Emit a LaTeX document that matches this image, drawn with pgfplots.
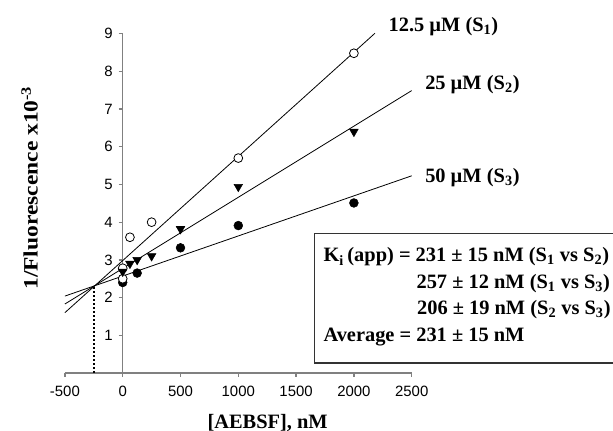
\documentclass[border=0pt]{standalone}
\usepackage{pgfplots}
\pgfplotsset{compat=1.18}
\usepackage{fontspec}
\setmainfont{Liberation Serif}
\newfontfamily\arial{Liberation Sans}
\newcommand{\lbl}{\fontsize{15.3}{18}\selectfont\bfseries}
\begin{document}
\begin{tikzpicture}
\begin{axis}[
  at={(48.675pt,43.5pt)}, anchor=south west,
  scale only axis, width=260.1pt, height=254.5pt,
  xmin=-500, xmax=2500, ymin=0, ymax=9,
  axis lines=middle,
  axis line style={-, draw=black!50, line width=1pt},
  xtick={-500,0,500,1000,1500,2000,2500},
  ytick={1,2,3,4,5,6,7,8,9},
  hide obscured x ticks=false,
  tick align=outside,
  major tick length=3pt,
  tick style={draw=black!50, line width=1pt},
  /pgf/number format/assume math mode=true,
  /pgf/number format/1000 sep={},
  ticklabel style={font=\arial\fontsize{11.2}{13}\selectfont},
  xticklabel style={yshift=-3pt},
  yticklabel style={xshift=-1pt},
  clip=false,
]
% fitted lines
\addplot[black, line width=0.6pt] coordinates {(-500,1.60) (2182,9.01)};
\addplot[black, line width=0.6pt] coordinates {(-500,1.83) (2500,7.49)};
\addplot[black, line width=0.6pt] coordinates {(-500,2.04) (2500,5.23)};
% dotted intercept
\addplot[black, line width=1.5pt, dash pattern=on 1.5pt off 1.5pt] coordinates {(-250,0) (-250,2.31)};
% S3 filled circles
\addplot[only marks, mark=*, mark size=3.3pt, mark options={fill=black, draw=black}] coordinates {
 (0,2.40) (125,2.65) (500,3.32) (1000,3.91) (2000,4.51)};
% S1 open circles
\addplot[only marks, mark=*, mark size=3.3pt, mark options={fill=white, draw=black, line width=0.6pt}] coordinates {
 (0,2.78) (0,2.50) (62.5,3.60) (250,4.00) (1000,5.70) (2000,8.48)};
% S2 triangles
\addplot[only marks, mark=triangle*, mark size=3.7pt, mark options={fill=black, draw=black, rotate=180}] coordinates {
 (0,2.69) (62.5,2.90) (125,3.00) (250,3.10) (500,3.82) (1000,4.94) (2000,6.40)};
% series labels
\node[anchor=base west, inner sep=0pt, font=\lbl] at (axis cs:2298,9.06) {12.5 µM (S\textsubscript{1})};
\node[anchor=base west, inner sep=0pt, font=\lbl] at (axis cs:2615,7.52) {25 µM (S\textsubscript{2})};
\node[anchor=base west, inner sep=0pt, font=\lbl] at (axis cs:2615,5.06) {50 µM (S\textsubscript{3})};
% axis labels
\node[anchor=base west, inner sep=0pt, font=\lbl] at (axis cs:732,-1.47) {[AEBSF], nM};
\node[rotate=90, anchor=base, inner sep=0pt, font=\lbl] at (axis cs:-735,4.91) {\scalebox{1.15}[1]{1/Fluorescence x10\textsuperscript{-3}}};
% Ki box
\draw[draw=black!80, line width=0.8pt, fill=white] (axis cs:1663,0.265) rectangle (axis cs:4700,3.71);
\node[anchor=base west, inner sep=0pt, font=\lbl] at (axis cs:1735,2.95) {K\textsubscript{i}\,(app) = 231 ± 15 nM (S\textsubscript{1} vs S\textsubscript{2})};
\node[anchor=base west, inner sep=0pt, font=\lbl] at (axis cs:2540,2.25) {257 ± 12 nM (S\textsubscript{1} vs S\textsubscript{3})};
\node[anchor=base west, inner sep=0pt, font=\lbl] at (axis cs:2545,1.54) {206 ± 19 nM (S\textsubscript{2} vs S\textsubscript{3})};
\node[anchor=base west, inner sep=0pt, font=\lbl] at (axis cs:1735,0.83) {Average = 231 ± 15 nM};
\end{axis}
\pgfresetboundingbox
\path[use as bounding box] (0,0) rectangle (459.75pt,323.25pt);
\end{tikzpicture}
\end{document}
